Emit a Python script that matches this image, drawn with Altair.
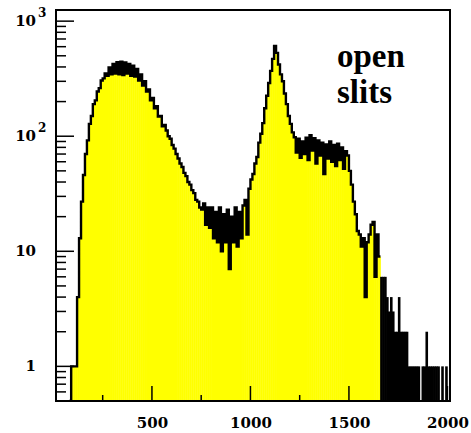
import altair as alt
import pandas as pd

# Histogram of counts in 10-channel bins (bin start -> count)
BIN = 10

rise_start = 80
rise_counts = [0, 1, 1, 1, 4, 13, 27, 46, 70]

peak1_start = 170
peak1_counts = [92, 128, 150, 190, 205, 245, 262, 305, 318, 352,
                335, 395, 345, 425, 350, 440, 345, 445, 340, 438,
                350, 425, 335, 410, 330, 385, 305, 345, 275, 300,
                245, 255, 205, 215, 175, 182, 148, 150, 122, 125]

valley_start = 570
valley_counts = [112, 100, 95, 84, 78, 70, 64, 58, 54, 48,
                 45, 40, 38, 34, 32, 28, 27, 24, 23, 26,
                 17, 24, 16, 24, 13, 22, 12, 24, 10, 21,
                 12, 23, 7, 20, 12, 24, 11, 22, 13, 25]

peak2_start = 970
peak2_counts = [28, 14, 35, 42, 47, 58, 66, 88, 105, 130,
                175, 225, 290, 370, 470, 610, 530, 420, 345, 300,
                235, 190, 150, 128, 108]

shoulder_start = 1220
shoulder_counts = [98, 72, 95, 65, 90, 70, 97, 62, 102, 75,
                   96, 58, 92, 68, 88, 47, 85, 64, 90, 60,
                   84, 55, 86, 62, 80, 52, 74]

fall_start = 1490
fall_counts = [68, 50, 38, 27, 21, 15, 14, 11, 13, 4,
               12, 14, 17, 18, 6, 14, 9]

tail_start = 1660
tail_counts = [6, 6, 6, 4, 3, 4, 3, 2, 2, 4,
               2, 2, 2, 2, 1, 1, 1, 1, 1, 1,
               0, 1, 1, 2, 1, 1, 1, 1, 1, 1,
               0, 1, 0, 1, 0, 1]

x_major = [500, 1000, 1500, 2000]
x_minor = [250, 750, 1250, 1750]
y_major = [1, 10, 100, 1000]
y_minor = [0.6, 0.7, 0.8, 0.9] + [m * d for d in (1, 10, 100) for m in range(2, 10)]
y_label_base = ["1", "10", "10", "10"]
y_label_sup = ["", "", "2", "3"]


def frame_of(segments, close=False):
    rows = []
    for start, counts in segments:
        for i, c in enumerate(counts):
            rows.append({"start": start + i * BIN, "count": c})
    if close:
        rows.append({"start": rows[-1]["start"] + BIN, "count": rows[-1]["count"]})
    return pd.DataFrame(rows)


main_segments = [(rise_start, rise_counts), (peak1_start, peak1_counts),
                 (valley_start, valley_counts), (peak2_start, peak2_counts),
                 (shoulder_start, shoulder_counts), (fall_start, fall_counts)]
main_bins = frame_of(main_segments)
main_steps = frame_of(main_segments, close=True)
tail_bins = frame_of([(tail_start, tail_counts)])

W, H = 394, 391

x_scale = alt.Scale(domain=[13, 2013], nice=False, zero=False)
y_scale = alt.Scale(type="log", domain=[0.5, 1250], nice=False)
x_axis = alt.Axis(values=x_major, format="d", ticks=False, tickSize=0, domain=False,
                  grid=False, labelFont="DejaVu Serif", labelFontWeight="bold",
                  labelFontSize=15, labelColor="black", labelPadding=14,
                  labelFlush=False, labelOverlap=False, labelBound=False, title=None)

shown = "max(datum.count, 0.5)"

# yellow body: one rectangle per bin, widened a little so bins leave no seam
fill = alt.Chart(main_bins).transform_calculate(
    shown=shown, end=f"datum.start + {BIN} + 2"
).mark_rect(fill="#ffff00", opacity=1, strokeWidth=0, clip=True).encode(
    x=alt.X("start:Q", scale=x_scale, axis=x_axis),
    x2="end:Q",
    y=alt.Y("shown:Q", scale=y_scale, axis=None),
    y2=alt.value(H),
)

# sparse tail: each bin drawn as a solid black bar at its centre
tail_fill = alt.Chart(tail_bins).transform_calculate(
    shown=shown, mid=f"datum.start + {BIN} / 2"
).mark_rule(color="black", strokeWidth=2.6, clip=True).encode(
    x=alt.X("mid:Q", scale=x_scale, axis=x_axis),
    y=alt.Y("shown:Q", scale=y_scale, axis=None),
    y2=alt.value(H),
)

outline = alt.Chart(main_steps).transform_calculate(shown=shown).mark_line(
    interpolate="step-after", color="black", strokeWidth=2.4, clip=True
).encode(
    x=alt.X("start:Q", scale=x_scale, axis=x_axis),
    y=alt.Y("shown:Q", scale=y_scale, axis=None),
)


def x_ticks(values, length):
    return alt.Chart(pd.DataFrame({"v": values})).mark_rule(
        color="black", strokeWidth=1.5
    ).encode(
        x=alt.X("v:Q", scale=x_scale, axis=x_axis),
        y=alt.value(H),
        y2=alt.value(H - length),
    )


def y_ticks(values, length):
    return alt.Chart(pd.DataFrame({"v": values})).mark_rule(
        color="black", strokeWidth=1.5
    ).encode(
        y=alt.Y("v:Q", scale=y_scale, axis=None),
        x=alt.value(0),
        x2=alt.value(length),
    )


labels_df = pd.DataFrame({"v": y_major, "base": y_label_base, "sup": y_label_sup})

y_labels = alt.Chart(labels_df).mark_text(
    align="right", baseline="middle", font="DejaVu Serif", fontWeight="bold",
    fontSize=15, color="black"
).encode(
    y=alt.Y("v:Q", scale=y_scale, axis=None),
    x=alt.value(-20),
    text="base:N",
)

y_sups = alt.Chart(labels_df).mark_text(
    align="left", baseline="middle", font="DejaVu Serif", fontWeight="bold",
    fontSize=12, color="black", dy=-8
).encode(
    y=alt.Y("v:Q", scale=y_scale, axis=None),
    x=alt.value(-18),
    text="sup:N",
)

note = alt.Chart(pd.DataFrame({"t": ["open\nslits"]})).mark_text(
    align="left", baseline="alphabetic", font="Liberation Serif", fontWeight="bold",
    fontSize=33, lineBreak="\n", lineHeight=36, color="black"
).encode(
    x=alt.value(281),
    y=alt.value(57),
    text="t:N",
)

frame = alt.Chart(pd.DataFrame({"k": [0]})).mark_rect(
    fillOpacity=0, stroke="black", strokeWidth=2
).encode(
    x=alt.value(0), x2=alt.value(W), y=alt.value(0), y2=alt.value(H)
)

chart = alt.layer(
    fill, tail_fill, outline,
    x_ticks(x_major, 15), x_ticks(x_minor, 6),
    y_ticks(y_major, 18), y_ticks(y_minor, 10),
    y_labels, y_sups, note, frame,
).properties(
    width=W, height=H,
    autosize=alt.AutoSizeParams(type="none"),
    padding={"left": 56, "top": 10, "right": 21, "bottom": 32},
    background="white",
).configure_view(stroke=None)

chart.save("out.html", embed_options={"renderer": "svg", "actions": False})
